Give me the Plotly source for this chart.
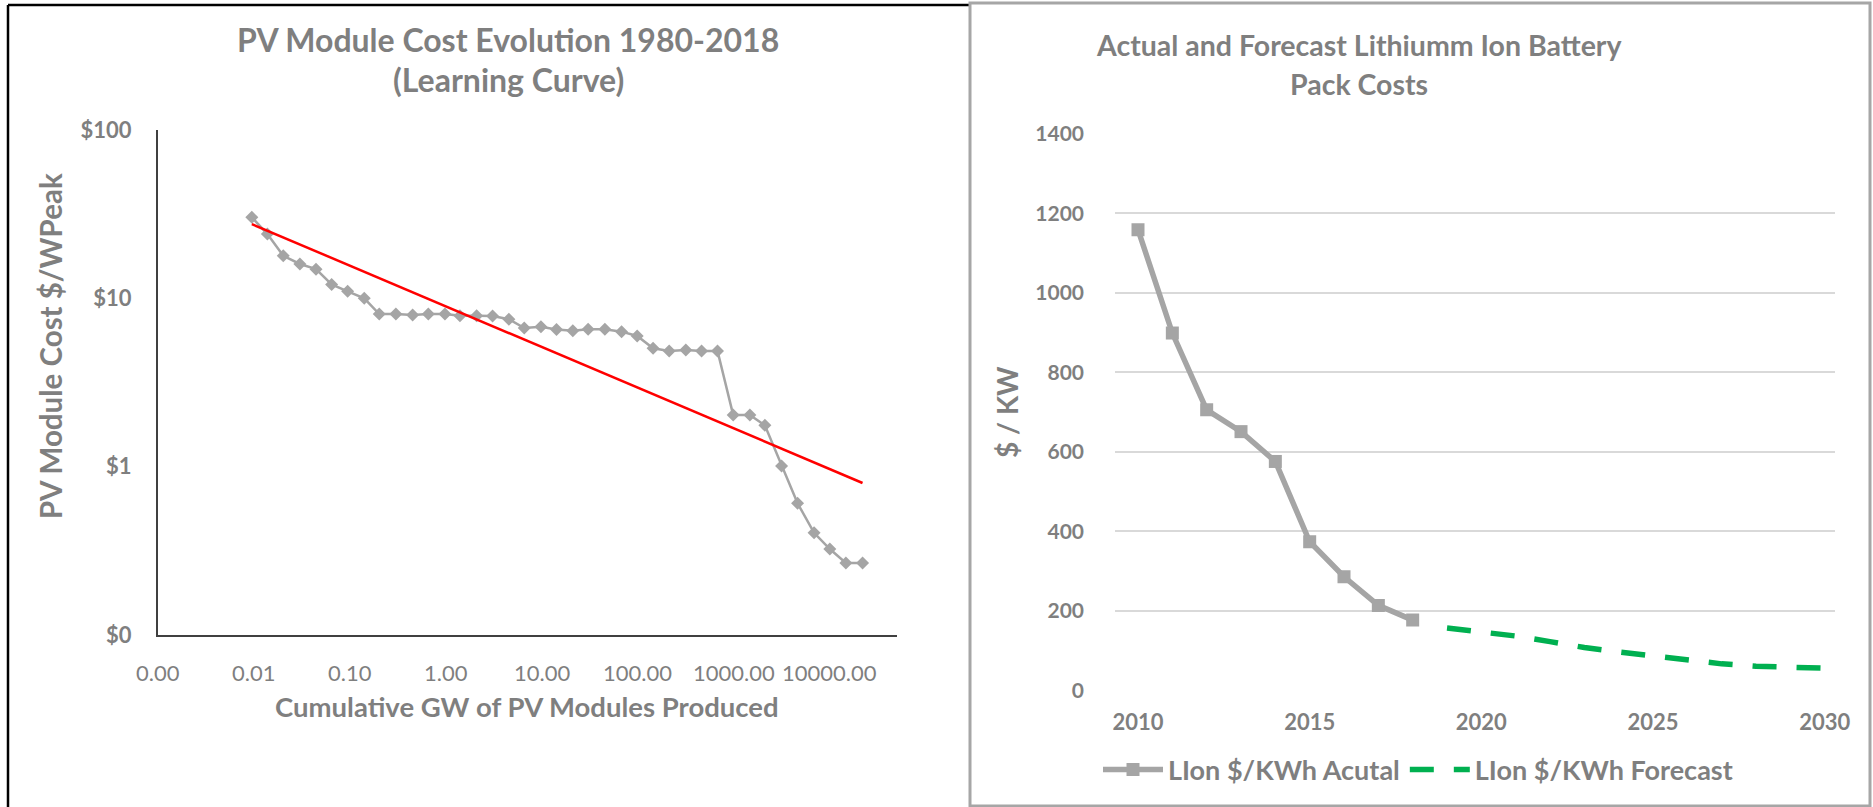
import math
import plotly.graph_objects as go

W, H = 1873, 807

# ---------------- Left chart data (PV learning curve) ----------------
pv_cum_gw = [0.0095, 0.0138, 0.0202, 0.0301, 0.0443, 0.0644, 0.0946, 0.141,
             0.202, 0.301, 0.450, 0.655, 0.977, 1.40, 2.09, 3.06, 4.53,
             6.55, 9.77, 14.2, 21.0, 30.3, 45.3, 67.6, 98.4,
             144, 212, 316, 461, 676, 984, 1469, 2104,
             3141, 4613, 6855, 10000, 14690, 21930]
pv_cost = [30.3, 24.1, 17.9, 16.0, 14.9, 12.1, 11.0, 10.0,
           8.07, 8.07, 7.96, 8.07, 8.07, 7.88, 7.88, 7.85, 7.52,
           6.66, 6.78, 6.53, 6.42, 6.55, 6.55, 6.34, 5.98,
           5.05, 4.87, 4.93, 4.87, 4.87, 2.03, 2.03, 1.76,
           1.01, 0.606, 0.405, 0.324, 0.268, 0.268]
trend_x = [0.0095, 21930]
trend_y = [27.6, 0.80]
pv_x_ticks = [0.001, 0.01, 0.1, 1, 10, 100, 1000, 10000]
pv_x_labels = ["0.00", "0.01", "0.10", "1.00", "10.00", "100.00", "1000.00", "10000.00"]
pv_y_ticks = [0.1, 1, 10, 100]
pv_y_labels = ["$0", "$1", "$10", "$100"]

# ---------------- Right chart data (battery pack costs) ----------------
years_actual = [2010, 2011, 2012, 2013, 2014, 2015, 2016, 2017, 2018]
cost_actual = [1159, 899, 706, 651, 576, 374, 286, 214, 177]
years_forecast = [2019, 2020, 2021, 2022, 2023, 2024, 2025, 2026, 2027, 2028, 2029, 2030]
cost_forecast = [157, 148, 137, 123, 108, 97, 87, 77, 67, 61, 60, 56]
bat_x_ticks = [2010, 2015, 2020, 2025, 2030]

FONT = "Lato"
GREY_TXT = "#7f7f7f"
GREY_LINE = "#a5a5a5"


def px(x):
    return x / W


def py(y):
    return 1 - y / H


fig = go.Figure()

fig.add_trace(go.Scatter(
    x=pv_cum_gw, y=pv_cost, mode="lines+markers",
    line=dict(color=GREY_LINE, width=2.5),
    marker=dict(symbol="diamond", size=10, color=GREY_LINE),
    xaxis="x", yaxis="y", showlegend=False, name="PV"))
fig.add_trace(go.Scatter(
    x=trend_x, y=trend_y, mode="lines",
    line=dict(color="#ff0000", width=2.5),
    xaxis="x", yaxis="y", showlegend=False, name="Trend"))

fig.add_trace(go.Scatter(
    x=years_actual, y=cost_actual, mode="lines+markers",
    name="LIon $/KWh Acutal",
    line=dict(color=GREY_LINE, width=5.5),
    marker=dict(symbol="square", size=13, color=GREY_LINE),
    xaxis="x2", yaxis="y2"))
fig.add_trace(go.Scatter(
    x=years_forecast, y=cost_forecast, mode="lines",
    name="LIon $/KWh Forecast",
    line=dict(color="#00b050", width=5.5, dash="24px,20px"),
    xaxis="x2", yaxis="y2"))

bold_tick = dict(family=FONT, size=22, color=GREY_TXT, weight="bold")

fig.update_layout(
    width=W, height=H,
    margin=dict(l=0, r=0, t=0, b=0, pad=0, autoexpand=False),
    paper_bgcolor="white", plot_bgcolor="white",
    font=dict(family=FONT, color=GREY_TXT),
    xaxis=dict(domain=[px(158), px(897)], type="log", range=[-3, 4.70],
               tickmode="array", tickvals=pv_x_ticks, showticklabels=False,
               showline=True, linecolor="#404040", linewidth=2,
               showgrid=False, zeroline=False, ticks="",
               automargin=False, anchor="y"),
    yaxis=dict(domain=[py(635), py(130)], type="log", range=[-1, 2],
               tickmode="array", tickvals=pv_y_ticks, ticktext=pv_y_labels,
               showline=True, linecolor="#404040", linewidth=2,
               showgrid=False, zeroline=False, ticks="",
               tickfont=dict(family=FONT, size=22, color=GREY_TXT, weight="bold"),
               ticklabelstandoff=20, automargin=False, anchor="x"),
    xaxis2=dict(domain=[px(1115), px(1835)], range=[2009.33, 2030.3],
                tickmode="array", tickvals=bat_x_ticks,
                showline=False, showgrid=False, zeroline=False, ticks="",
                tickfont=bold_tick, ticklabelstandoff=16,
                automargin=False, anchor="y2"),
    yaxis2=dict(domain=[py(690.5), py(133.8)], range=[0, 1400], dtick=200,
                showline=False, showgrid=True, gridcolor="#d9d9d9", gridwidth=2,
                zeroline=False, ticks="",
                tickfont=dict(family=FONT, size=21, color=GREY_TXT, weight="bold"),
                ticklabelstandoff=30, automargin=False, anchor="x2"),
    legend=dict(orientation="h", x=px(1418), xanchor="center",
                y=py(770), yanchor="middle",
                font=dict(family=FONT, size=27, color=GREY_TXT, weight="bold"),
                itemwidth=60, bgcolor="rgba(0,0,0,0)"),
)

# x tick labels of the left (log) axis, placed through the axis itself
for v, lab in zip(pv_x_ticks, pv_x_labels):
    fig.add_annotation(text=lab, xref="x", x=math.log10(v), yref="paper", y=py(672),
                       showarrow=False, xanchor="center", yanchor="middle",
                       font=dict(family=FONT, size=22, color=GREY_TXT))

title_font = dict(family=FONT, size=32, color=GREY_TXT, weight="bold")
rtitle_font = dict(family=FONT, size=28.5, color=GREY_TXT, weight="bold")
annos = [
    dict(text="PV Module Cost Evolution 1980-2018", x=px(508), y=py(39), font=title_font),
    dict(text="(Learning Curve)", x=px(508), y=py(79), font=title_font),
    dict(text="Actual and Forecast Lithiumm Ion Battery", x=px(1359), y=py(45), font=rtitle_font),
    dict(text="Pack Costs", x=px(1359), y=py(84), font=rtitle_font),
    dict(text="Cumulative GW of PV Modules Produced", x=px(527), y=py(706),
         font=dict(family=FONT, size=27.5, color=GREY_TXT, weight="bold")),
    dict(text="PV Module Cost $/WPeak", x=px(50), y=py(346), textangle=-90,
         font=dict(family=FONT, size=29.5, color=GREY_TXT, weight="bold")),
    dict(text="$ / KW", x=px(1007), y=py(412), textangle=-90,
         font=dict(family=FONT, size=28, color=GREY_TXT, weight="bold")),
]
for a in annos:
    a.update(xref="paper", yref="paper", showarrow=False,
             xanchor="center", yanchor="middle")
    fig.add_annotation(**a)

fig.add_shape(type="line", xref="paper", yref="paper",
              x0=px(8), x1=px(8), y0=0, y1=py(5),
              line=dict(color="#000000", width=2.5))
fig.add_shape(type="line", xref="paper", yref="paper",
              x0=px(8), x1=px(970), y0=py(5), y1=py(5),
              line=dict(color="#000000", width=2.5))
fig.add_shape(type="rect", xref="paper", yref="paper",
              x0=px(970), x1=px(1870), y0=py(806), y1=py(3),
              line=dict(color="#a6a6a6", width=3))

fig.write_html("out.html",
               config={"displayModeBar": False},
               post_script="document.body.style.margin='0';document.body.style.overflow='hidden';")
